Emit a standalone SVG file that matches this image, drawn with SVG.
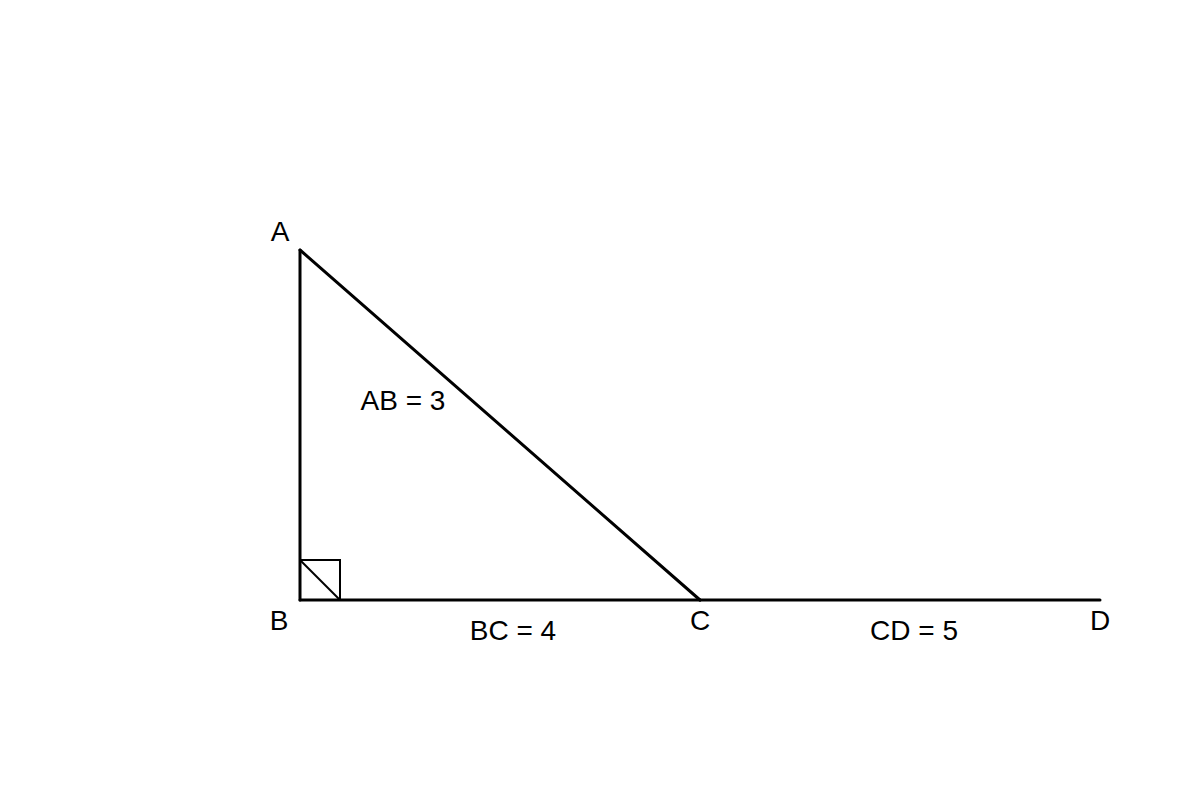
<svg xmlns="http://www.w3.org/2000/svg" width="1200" height="800" viewBox="0 0 1200 800">
  <style>
    .edge { stroke: #000; stroke-width: 3; fill: none; stroke-linecap: round; }
    .mark { stroke: #000; stroke-width: 2; fill: none; }
    .lbl { font-family: "Liberation Sans", Arial, sans-serif; font-size: 28px; fill: #000; text-anchor: middle; }
  </style>
  <rect width="1200" height="800" fill="#fff"/>
  <g id="connectors">
    <line class="edge" x1="300" y1="250" x2="300" y2="600"/>
    <line class="edge" x1="300" y1="600" x2="700" y2="600"/>
    <line class="edge" x1="300" y1="250" x2="700" y2="600"/>
    <line class="edge" x1="700" y1="600" x2="1100" y2="600"/>
    <rect class="mark" x="300" y="560" width="40" height="40"/>
    <line class="mark" x1="300" y1="560" x2="340" y2="600" stroke-width="1.5"/>
    <text class="lbl" x="403" y="410">AB = 3</text>
    <text class="lbl" x="513" y="640">BC = 4</text>
    <text class="lbl" x="914" y="640">CD = 5</text>
  </g>
  <g id="A"><text class="lbl" x="280" y="241">A</text></g>
  <g id="B"><text class="lbl" x="279" y="630">B</text></g>
  <g id="C"><text class="lbl" x="700" y="630">C</text></g>
  <g id="D"><text class="lbl" x="1100" y="630">D</text></g>
</svg>
